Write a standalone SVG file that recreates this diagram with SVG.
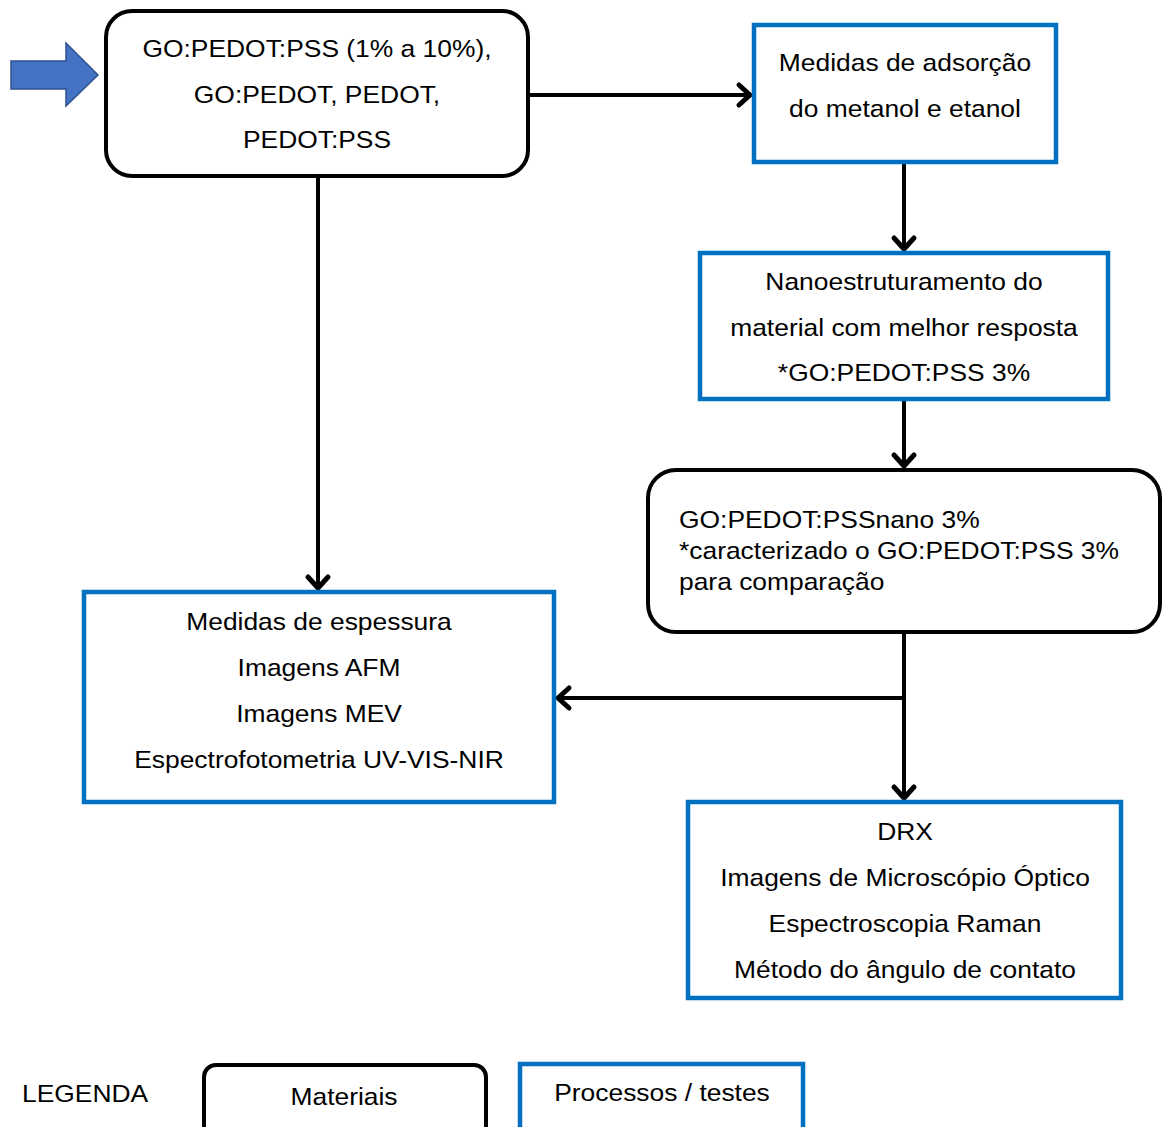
<svg xmlns="http://www.w3.org/2000/svg" width="1162" height="1127" viewBox="0 0 1162 1127">
<style>
.t{font-family:"Liberation Sans",Arial,sans-serif;font-size:24px;fill:#000}
.m{text-anchor:middle}
.mat{fill:#fff;stroke:#000;stroke-width:4}
.pro{fill:#fff;stroke:#0070C0;stroke-width:4.5}
.c{fill:none;stroke:#000;stroke-width:4}
</style>
<defs>
<marker id="ah" markerUnits="userSpaceOnUse" markerWidth="24" markerHeight="28" viewBox="-16 -14 20 28" refX="0" refY="0" orient="auto">
<path d="M-11,-10 L0,0 L-11,10" fill="none" stroke="#000" stroke-width="5" stroke-linecap="round" stroke-linejoin="round"/>
</marker>
</defs>
<rect width="1162" height="1127" fill="#fff"/>
<g id="connectors">
<path class="c" d="M528,95 H750" marker-end="url(#ah)"/>
<path class="c" d="M904,162 V249" marker-end="url(#ah)"/>
<path class="c" d="M904,399 V466" marker-end="url(#ah)"/>
<path class="c" d="M318,176 V588" marker-end="url(#ah)"/>
<path class="c" d="M904,632 V798" marker-end="url(#ah)"/>
<path class="c" d="M904,698 H558" marker-end="url(#ah)"/>
</g>
<g id="start-arrow">
<path d="M11,61 H66 V43 L98,75 L66,106 V89 H11 Z" fill="#4472C4" stroke="#2F528F" stroke-width="1.5"/>
</g>
<g id="n1">
<rect class="mat" x="106" y="11" width="422" height="165" rx="26"/>
<text class="t m" transform="translate(317,57) scale(1.1,1)">GO:PEDOT:PSS (1% a 10%),</text>
<text class="t m" transform="translate(317,103) scale(1.1,1)">GO:PEDOT, PEDOT,</text>
<text class="t m" transform="translate(317,148) scale(1.1,1)">PEDOT:PSS</text>
</g>
<g id="n2">
<rect class="pro" x="754" y="25" width="302" height="137"/>
<text class="t m" transform="translate(905,71) scale(1.1,1)">Medidas de adsorção</text>
<text class="t m" transform="translate(905,117) scale(1.1,1)">do metanol e etanol</text>
</g>
<g id="n3">
<rect class="pro" x="700" y="253" width="408" height="146"/>
<text class="t m" transform="translate(904,290) scale(1.1,1)">Nanoestruturamento do</text>
<text class="t m" transform="translate(904,336) scale(1.1,1)">material com melhor resposta</text>
<text class="t m" transform="translate(904,381) scale(1.1,1)">*GO:PEDOT:PSS 3%</text>
</g>
<g id="n4">
<rect class="mat" x="648" y="470" width="512" height="162" rx="28"/>
<text class="t" transform="translate(679,528) scale(1.1,1)">GO:PEDOT:PSSnano 3%</text>
<text class="t" transform="translate(679,559) scale(1.1,1)">*caracterizado o GO:PEDOT:PSS 3%</text>
<text class="t" transform="translate(679,590) scale(1.1,1)">para comparação</text>
</g>
<g id="n5">
<rect class="pro" x="84" y="592" width="470" height="210"/>
<text class="t m" transform="translate(319,630) scale(1.1,1)">Medidas de espessura</text>
<text class="t m" transform="translate(319,676) scale(1.1,1)">Imagens AFM</text>
<text class="t m" transform="translate(319,722) scale(1.1,1)">Imagens MEV</text>
<text class="t m" transform="translate(319,768) scale(1.1,1)">Espectrofotometria UV-VIS-NIR</text>
</g>
<g id="n6">
<rect class="pro" x="688" y="802" width="433" height="196"/>
<text class="t m" transform="translate(905,840) scale(1.1,1)">DRX</text>
<text class="t m" transform="translate(905,886) scale(1.1,1)">Imagens de Microscópio Óptico</text>
<text class="t m" transform="translate(905,932) scale(1.1,1)">Espectroscopia Raman</text>
<text class="t m" transform="translate(905,978) scale(1.1,1)">Método do ângulo de contato</text>
</g>
<g id="legend">
<text class="t" transform="translate(22,1102) scale(1.1,1)">LEGENDA</text>
<rect class="mat" x="204" y="1065" width="282" height="80" rx="12"/>
<text class="t m" transform="translate(344,1105) scale(1.1,1)">Materiais</text>
<rect class="pro" x="520" y="1064" width="283" height="80"/>
<text class="t m" transform="translate(662,1101) scale(1.1,1)">Processos / testes</text>
</g>
</svg>
